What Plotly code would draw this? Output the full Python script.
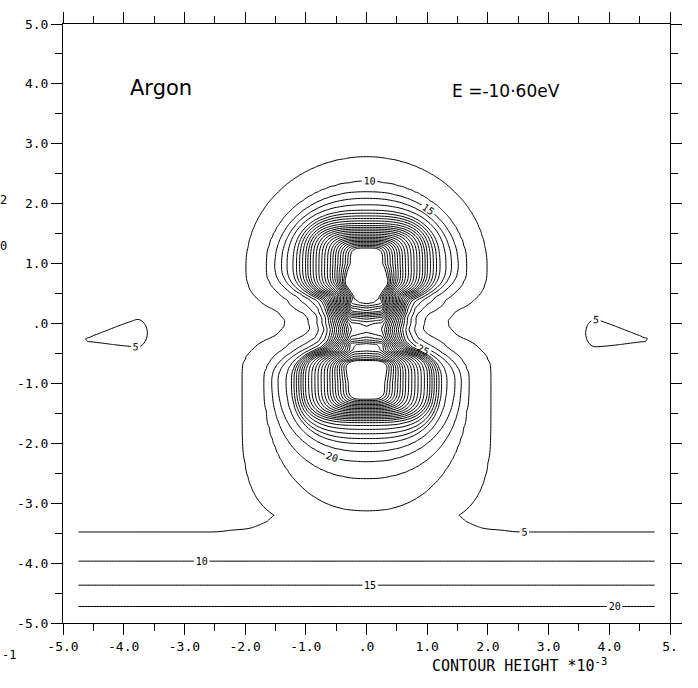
import numpy as np
import plotly.graph_objects as go

# ---------------- values ----------------
# data domain of the contour grid (contours stop at x = +-4.75)
grid_x_lo, grid_x_hi, grid_x_n = -4.75, 4.75, 191
grid_y_lo, grid_y_hi, grid_y_n = -4.95, 4.75, 195

# contour levels (x 10^-3)
lab_start, lab_end, lab_step = 5, 25, 5        # labelled outer levels
in_start, in_end, in_step = 30, 105, 3.5       # inner (unlabelled) levels

# radial profiles of the two lobes: radius at which each level is crossed
prof_levels = [0, 1, 5, 10, 15, 20, 25, 30, 35, 40, 45, 50, 75, 105, 140]

up_cy = 0.96
up_side  = [3.2, 2.5, 1.98, 1.65, 1.51, 1.40, 1.31, 1.21, 1.13, 1.06, 0.99, 0.94, 0.60, 0.25, 0.05]
up_outer = [3.2, 2.4, 1.82, 1.41, 1.24, 1.13, 1.02, 0.93, 0.86, 0.80, 0.74, 0.68, 0.48, 0.29, 0.05]
up_inner = [1.25, 1.05, 0.86, 0.78, 0.72, 0.68, 0.64, 0.61, 0.58, 0.55, 0.52, 0.50, 0.40, 0.29, 0.05]
up_pout  = [2.0, 2.0, 2.0, 2.0, 2.1, 2.2, 2.4, 2.6, 2.8, 3.0, 3.2, 3.4, 3.8, 4.5, 4.5]
up_pin   = [3.0, 3.0, 3.0, 2.4, 2.2, 2.2, 2.4, 2.6, 2.8, 3.0, 3.2, 3.4, 3.8, 4.5, 4.5]

lo_cy = -0.965
lo_side  = [3.5, 3.2, 2.05, 1.68, 1.56, 1.46, 1.32, 1.23, 1.18, 1.12, 1.07, 1.02, 0.65, 0.28, 0.05]
lo_outer = [2.70, 2.55, 2.45, 2.17, 1.62, 1.34, 1.17, 1.04, 0.92, 0.81, 0.72, 0.66, 0.48, 0.29, 0.05]
lo_inner = [1.25, 1.05, 0.86, 0.78, 0.72, 0.68, 0.64, 0.61, 0.58, 0.55, 0.52, 0.50, 0.40, 0.29, 0.05]
lo_pout  = [4.0, 4.0, 4.0, 2.2, 2.2, 2.2, 2.4, 2.6, 2.8, 3.0, 3.2, 3.4, 3.8, 4.5, 4.5]
lo_pin   = [3.0, 3.0, 3.0, 2.4, 2.2, 2.2, 2.4, 2.6, 2.8, 3.0, 3.2, 3.4, 3.8, 4.5, 4.5]

# central column between the lobes: height and half-width along y,
# cross profile in units of the half-width
col_y  = [-1.00, -0.80, -0.60, -0.35, 0.00, 0.20, 0.33, 0.45, 0.60, 0.80, 1.00]
col_h  = [0.0, 5.0, 15.0, 55.0, 64.0, 80.0, 78.0, 60.0, 40.0, 15.0, 0.0]
col_w  = [0.35, 0.38, 0.42, 0.50, 0.55, 0.52, 0.50, 0.41, 0.32, 0.30, 0.30]
col_u  = [0.0, 0.5, 0.7, 1.0, 1.3, 1.6, 2.0, 2.8, 4.0]
col_uv = [1.0, 0.96, 0.76, 0.49, 0.24, 0.10, 0.045, 0.005, 0.0]

# small side islands (level 5)
isl_x = [-3.78, 3.78]
isl_dir = [-1, 1]
isl_y = -0.16
isl_tail, isl_head, isl_half, isl_drop = 0.90, 0.17, 0.23, 0.12

# calibration band at the bottom: height of the lines
band_y = [-4.95, -4.75, -4.72, -4.37, -3.97, -3.47, -3.32, -3.20]
band_v = [20.4, 20.3, 20.0, 15.0, 10.0, 5.0, 1.5, 0.0]

# axes
tick_vals = [-5, -4, -3, -2, -1, 0, 1, 2, 3, 4, 5]
x_text = ["-5.0", "-4.0", "-3.0", "-2.0", "-1.0", ".0", "1.0", "2.0", "3.0", "4.0", "5."]
y_text = ["-5.0", "-4.0", "-3.0", "-2.0", "-1.0", ".0", "1.0", "2.0", "3.0", "4.0", "5.0"]

# ---------------- build the field ----------------
xs = np.linspace(grid_x_lo, grid_x_hi, grid_x_n)
ys = np.linspace(grid_y_lo, grid_y_hi, grid_y_n)
X, Y = np.meshgrid(xs, ys)


def lobe_field(cy, outer_up, side, outer, inner, pout, pin):
    Lg = np.arange(0.0, 141.0, 1.0)
    rs = np.interp(Lg, prof_levels, side)
    ro = np.interp(Lg, prof_levels, outer)
    ri = np.interp(Lg, prof_levels, inner)
    po = np.interp(Lg, prof_levels, pout)
    pq = np.interp(Lg, prof_levels, pin)
    ax = np.abs(X).ravel()
    d = (Y - cy).ravel()
    out_side = (d > 0) if outer_up else (d < 0)
    ay = np.abs(d)
    rt = np.where(out_side[None, :], ro[:, None], ri[:, None])
    pw = np.where(out_side[None, :], po[:, None], pq[:, None])
    g = (ax[None, :] / rs[:, None]) ** pw + (ay[None, :] / rt) ** pw
    n = len(Lg)
    k = (g <= 1.0).sum(axis=0)
    z = np.zeros(ax.shape)
    z[k >= n] = Lg[-1]
    mid = (k > 0) & (k < n)
    cols = np.nonzero(mid)[0]
    j = k[mid] - 1
    g0 = g[j, cols]
    g1 = g[j + 1, cols]
    z[mid] = Lg[j] + (1.0 - g0) / np.maximum(g1 - g0, 1e-9)
    return z.reshape(X.shape)


U = lobe_field(up_cy, True, up_side, up_outer, up_inner, up_pout, up_pin)
D = lobe_field(lo_cy, False, lo_side, lo_outer, lo_inner, lo_pout, lo_pin)
Hc = np.interp(Y, col_y, col_h, left=0.0, right=0.0)
Wc = np.interp(Y, col_y, col_w)
C = Hc * np.interp(np.abs(X) / Wc, col_u, col_uv, right=0.0)

S = np.zeros_like(X)
for bx, bd in zip(isl_x, isl_dir):
    dx = (X - bx) * bd
    t = np.clip(dx / isl_tail, 0, 1)
    hh = isl_half * (1 - 0.75 * t)
    v = Y - (isl_y - isl_drop * t)
    u = np.where(dx > 0, dx / isl_tail, dx / isl_head)
    g = u ** 2 + (v / hh) ** 2
    S += 5.0 * np.exp(0.5 * (1 - g))

R = np.interp(Y, band_y, band_v, left=band_v[0], right=0.0)

Z = np.round(U + D + C + S + R, 3)

# ---------------- figure ----------------
mono = "DejaVu Sans Mono"
common = dict(x=xs, y=ys, z=Z, showscale=False, hoverinfo="skip", autocontour=False,
              line=dict(color="black", width=1))
fig = go.Figure()
fig.add_trace(go.Contour(**common, contours=dict(
    coloring="none", start=lab_start, end=lab_end, size=lab_step, showlabels=True,
    labelfont=dict(family=mono, size=10, color="black"))))
fig.add_trace(go.Contour(**common, contours=dict(
    coloring="none", start=in_start, end=in_end, size=in_step, showlabels=False)))

axis_common = dict(range=[-5, 5], tickmode="array", tickvals=tick_vals, ticks="outside",
                   ticklen=11, tickwidth=1, tickcolor="black", showline=True, linecolor="black",
                   linewidth=1, mirror="ticks", showgrid=False, zeroline=False,
                   tickfont=dict(family=mono, size=13, color="black"),
                   minor=dict(tickmode="linear", tick0=-5, dtick=0.5, ticks="outside",
                              ticklen=7, tickwidth=1, tickcolor="black"))
fig.update_xaxes(**axis_common, ticktext=x_text)
fig.update_yaxes(**axis_common, ticktext=y_text)

L, T, PW, PH = 63, 21, 607, 602


def paper(xp, yp):
    return (xp - L) / PW, (T + PH - yp) / PH


ann = []
ax_, ay_ = paper(161, 85)
ann.append(dict(text="Argon", x=ax_, y=ay_, font=dict(family="DejaVu Sans", size=21, color="black")))
ex_, ey_ = paper(506, 88)
ann.append(dict(text="E =-10·60eV", x=ex_, y=ey_, font=dict(family="DejaVu Sans", size=17, color="black")))
cx_, cy_ = paper(430, 665)
ann.append(dict(text="CONTOUR HEIGHT *10<sup>-3</sup>", x=cx_, y=cy_, xanchor="left",
                font=dict(family=mono, size=15, color="black")))
for txt, xp, yp in [("2", 9, 198), ("0", 9, 244), ("-1", 18, 655)]:
    px_, py_ = paper(xp, yp)
    ann.append(dict(text=txt, x=px_, y=py_, xanchor="right", font=dict(family=mono, size=12, color="black")))
for a in ann:
    a.setdefault("xanchor", "center")
    a.update(xref="paper", yref="paper", yanchor="middle", showarrow=False)

fig.update_layout(width=698, height=688, margin=dict(l=L, r=698 - L - PW, t=T, b=688 - T - PH),
                  paper_bgcolor="white", plot_bgcolor="white", showlegend=False, annotations=ann)

fig.write_html("out.html", config={"displayModeBar": False},
               post_script="document.body.style.margin='0px';")
